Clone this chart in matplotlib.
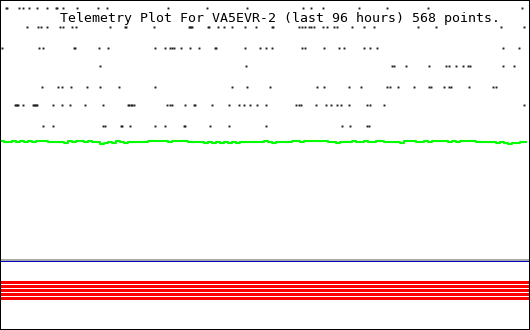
import matplotlib
matplotlib.use("Agg")
import matplotlib.pyplot as plt
from matplotlib.lines import Line2D

W, H = 530, 330

title = "Telemetry Plot For VA5EVR-2 (last 96 hours) 568 points."

# analog channel (0-255 scale), sampled every 4 columns
green_vals = [
    117, 116, 116, 117, 116, 117, 116, 117, 116, 117, 117, 117, 116, 116, 116, 116,
    115, 117, 116, 117, 117, 116, 117, 116, 116, 114, 115, 116, 115, 117, 116, 115,
    116, 116, 116, 116, 116, 117, 117, 117, 117, 117, 116, 117, 117, 117, 117, 116,
    116, 116, 116, 115, 116, 115, 116, 115, 116, 115, 116, 115, 116, 116, 116, 116,
    116, 116, 117, 116, 115, 116, 116, 116, 116, 117, 117, 116, 117, 117, 117, 117,
    117, 117, 116, 116, 115, 116, 116, 116, 117, 116, 116, 117, 116, 116, 117, 117,
    116, 116, 116, 116, 115, 117, 117, 117, 116, 116, 117, 116, 117, 117, 117, 117,
    116, 117, 116, 117, 117, 117, 117, 116, 116, 116, 116, 116, 115, 116, 115, 114,
    115, 115, 116, 116,
]
green_x = [2 + 4 * i for i in range(len(green_vals))]

# sparse channels: (level, sample columns)
dot_rows = [
    (250, [6, 7, 19, 23, 29, 37, 47, 56, 57, 63, 77, 98, 107, 168, 207, 247,
           303, 311, 323, 359, 387, 428, 522]),
    (231, [27, 38, 41, 47, 60, 63, 72, 76, 110, 125, 126, 154, 189, 190, 191, 192,
           208, 209, 218, 224, 232, 245, 256, 272, 273, 299, 302, 305, 309, 311, 314,
           323, 327, 334, 337, 352, 364, 374, 418, 436, 501, 524]),
    (210, [2, 39, 43, 74, 75, 99, 108, 155, 165, 170, 172, 174, 181, 190, 199, 215,
           216, 245, 260, 266, 272, 302, 305, 324, 339, 344, 364, 370, 377, 503, 519]),
    (192, [100, 246, 392, 394, 406, 429, 446, 449, 456, 463, 468, 470, 503, 514]),
    (171, [42, 58, 62, 71, 87, 100, 119, 155, 232, 247, 270, 317, 324, 349, 361,
           387, 390, 398, 414, 429, 431, 444, 449, 451, 469, 493, 496]),
    (153, [15, 16, 17, 18, 23, 33, 34, 35, 36, 37, 53, 62, 70, 85, 103, 128, 129,
           131, 132, 134, 167, 170, 172, 185, 194, 195, 212, 229, 239, 244, 250, 257,
           266, 296, 299, 301, 316, 326, 331, 337, 341, 349, 367, 370, 384, 524]),
    (132, [43, 53, 103, 105, 121, 122, 130, 155, 165, 184, 185, 210, 229, 266, 342,
           350, 367, 369]),
]

# digital bits that stay on
bit_rows = [0, 1, 2, 3, 4]

fig = plt.figure(figsize=(W / 100, H / 100), dpi=100)

# ---- upper analog panel ----
ax = fig.add_axes([0, 1 - 258 / H, 1, 258 / H])
ax.set_xlim(0, W)
ax.set_ylim(0, 258)
ax.axis("off")

for level, xs in dot_rows:
    ax.plot(xs, [level] * len(xs), "s", ms=1.4, mew=0, color="#202020")

ax.plot(green_x, green_vals, color="#00ff00", lw=1.5, drawstyle="steps-mid")

# ---- lower digital panel ----
ax2 = fig.add_axes([0, 0, 1, 68 / H])
ax2.set_xlim(0, W)
ax2.set_ylim(12.125, -4.875)
ax2.axis("off")
ax2.hlines(bit_rows, 0, W, color="#ff0000", lw=2.16)


def pix_line(x0, y0, x1, y1, color, width_px):
    # x from left, y from top, both in pixels
    fig.add_artist(Line2D([x0 / W, x1 / W], [1 - y0 / H, 1 - y1 / H],
                          color=color, lw=width_px * 0.72, snap=False,
                          solid_capstyle="butt", transform=fig.transFigure))


# separators
pix_line(0, 260, W, 260, "#a8a8a8", 2)
pix_line(0, 261.5, W, 261.5, "#0000c0", 1)

# frame
pix_line(0, 0.5, W, 0.5, "black", 1)
pix_line(0, H - 0.5, W, H - 0.5, "black", 1)
pix_line(0.5, 0, 0.5, H, "black", 1)
pix_line(W - 0.5, 0, W - 0.5, H, "black", 1)

fig.text(60 / W, 1 - 22 / H, title, family="DejaVu Sans Mono", fontsize=9.54,
         ha="left", va="baseline", color="black")

fig.savefig("out.png", dpi=100, facecolor="white")
